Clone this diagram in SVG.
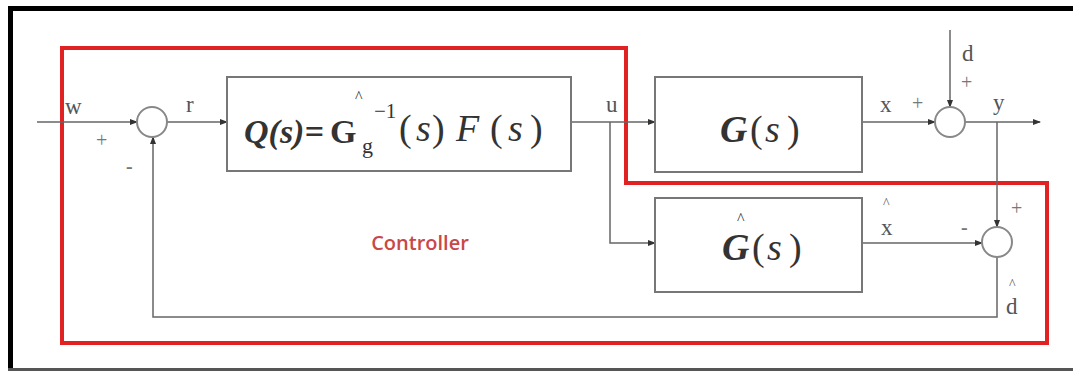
<svg xmlns="http://www.w3.org/2000/svg" width="1073" height="371" viewBox="0 0 1073 371">
<defs>
<marker id="ah" markerWidth="8" markerHeight="8" refX="7" refY="4" orient="auto" markerUnits="userSpaceOnUse">
<path d="M0,1 L8,4 L0,7 Z" fill="#333"/>
</marker>
<style>
.ln{fill:none;stroke:#666;stroke-width:1.5}
.blk{fill:#fff;stroke:#777;stroke-width:2}
.sum{fill:#fff;stroke:#888;stroke-width:2}
.lb{font-family:"Liberation Serif",serif;font-size:23px;fill:#555}
.pm{font-family:"Liberation Serif",serif;font-size:20px;fill:#777}
.hat{font-family:"Liberation Serif",serif;font-size:14px;fill:#555}
.mth{font-family:"Liberation Serif",serif;fill:#333}
</style>
</defs>
<rect x="0" y="0" width="1073" height="371" fill="#fff"/>
<rect x="9" y="6" width="1064" height="5" fill="#000"/>
<rect x="8" y="6" width="5" height="365" fill="#000"/>
<rect x="8" y="368" width="1065" height="3" fill="#555"/>
<g id="controller-boundary">
<path d="M62,48 L626,48 L626,183 L1047,183 L1047,343 L62,343 Z" fill="none" stroke="#e02222" stroke-width="4"/>
<text x="420" y="250" text-anchor="middle" font-family="'Open Sans',sans-serif" font-size="20" font-weight="600" fill="#c84848">Controller</text>
</g>
<g id="connectors">
<line class="ln" x1="37" y1="122" x2="137" y2="122" marker-end="url(#ah)"/>
<line class="ln" x1="167" y1="122" x2="227" y2="122" marker-end="url(#ah)"/>
<line class="ln" x1="571" y1="122" x2="655" y2="122" marker-end="url(#ah)"/>
<polyline class="ln" points="610,122 610,243 655,243" marker-end="url(#ah)"/>
<line class="ln" x1="862" y1="122" x2="935" y2="122" marker-end="url(#ah)"/>
<line class="ln" x1="950" y1="30" x2="950" y2="107" marker-end="url(#ah)"/>
<line class="ln" x1="965" y1="122" x2="1040" y2="122" marker-end="url(#ah)"/>
<line class="ln" x1="997" y1="122" x2="997" y2="227" marker-end="url(#ah)"/>
<line class="ln" x1="862" y1="243" x2="982" y2="243" marker-end="url(#ah)"/>
<polyline class="ln" points="997,257 997,317 153,317 153,137" marker-end="url(#ah)"/>
<text class="lb" x="65" y="114">w</text>
<text class="pm" x="96" y="147">+</text>
<text class="pm" x="126" y="173" font-weight="bold">-</text>
<text class="lb" x="186" y="112">r</text>
<text class="lb" x="606" y="112">u</text>
<text class="lb" x="880" y="112">x</text>
<text class="pm" x="912" y="110">+</text>
<text class="lb" x="993" y="110">y</text>
<text class="lb" x="962" y="61">d</text>
<text class="pm" x="961" y="89">+</text>
<text class="lb" x="881" y="235">x</text>
<text class="hat" x="883" y="208">^</text>
<text class="pm" x="1011" y="215">+</text>
<text class="pm" x="961" y="234" font-weight="bold">-</text>
<text class="lb" x="1006" y="314">d</text>
<text class="hat" x="1009" y="289">^</text>
</g>
<g id="sum1"><circle class="sum" cx="152" cy="122" r="15"/></g>
<g id="sum2"><circle class="sum" cx="950" cy="122" r="15"/></g>
<g id="sum3"><circle class="sum" cx="997" cy="242" r="15"/></g>
<g id="Q">
<rect class="blk" x="227" y="77" width="344" height="94"/>
<text class="mth" x="244" y="143" font-size="34" font-weight="bold" font-style="italic">Q(s)=</text>
<text class="mth" x="330" y="143" font-size="34" font-weight="bold">G</text>
<text class="mth" x="355" y="102" font-size="16">^</text>
<text class="mth" x="362" y="153" font-size="22" fill="#666">g</text>
<text class="mth" x="374" y="118" font-size="21">−1</text>
<text class="mth" font-size="38"><tspan x="399" y="141">(</tspan><tspan x="416" y="141" font-style="italic">s</tspan><tspan x="432" y="141">)</tspan><tspan x="456" y="141" font-style="italic">F</tspan><tspan x="490" y="141">(</tspan><tspan x="508" y="141" font-style="italic">s</tspan><tspan x="530" y="141">)</tspan></text>
</g>
<g id="G">
<rect class="blk" x="655" y="77" width="207" height="95"/>
<text class="mth" font-size="38"><tspan x="720" y="142" font-weight="bold" font-style="italic">G</tspan><tspan x="750" y="142">(</tspan><tspan x="765" y="142" font-style="italic">s</tspan><tspan x="787" y="142">)</tspan></text>
</g>
<g id="Ghat">
<rect class="blk" x="655" y="198" width="207" height="94"/>
<text class="mth" x="737" y="224" font-size="16">^</text>
<text class="mth" font-size="38"><tspan x="722" y="260" font-weight="bold" font-style="italic">G</tspan><tspan x="752" y="260">(</tspan><tspan x="767" y="260" font-style="italic">s</tspan><tspan x="789" y="260">)</tspan></text>
</g>
</svg>
